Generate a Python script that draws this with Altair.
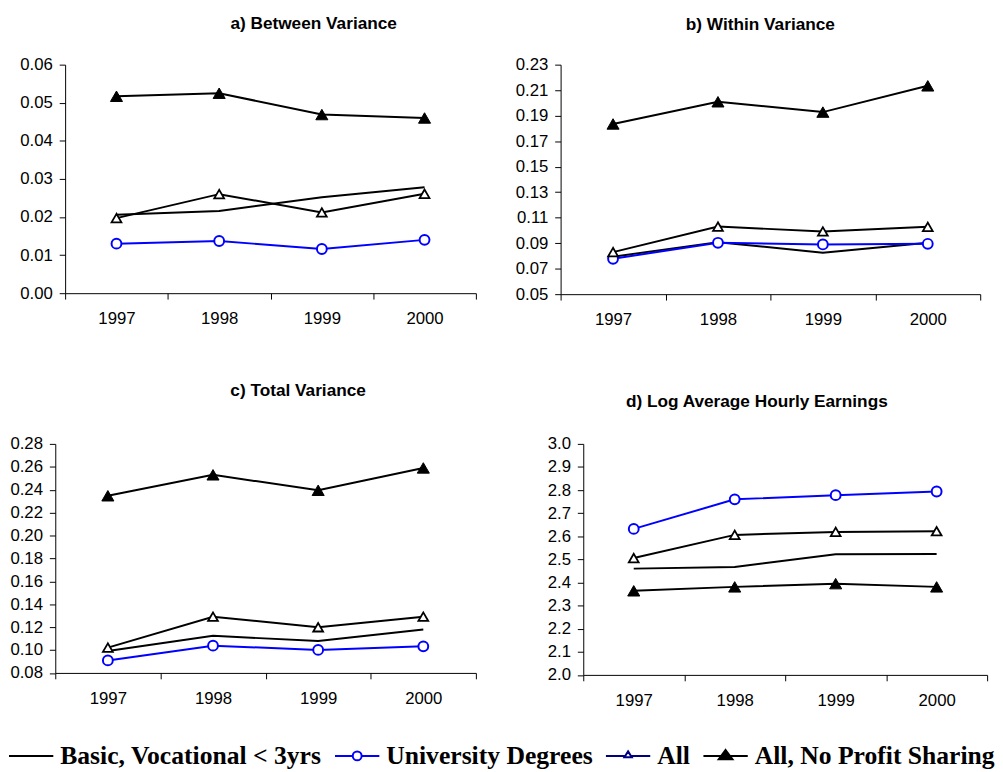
import altair as alt
import pandas as pd

years = ["1997", "1998", "1999", "2000"]
series_names = ["Basic, Vocational < 3yrs", "University Degrees", "All", "All, No Profit Sharing"]

# a) Between Variance
between_basic = [0.0206, 0.0216, 0.0252, 0.0278]
between_univ = [0.0130, 0.0137, 0.0116, 0.0140]
between_all = [0.0197, 0.0260, 0.0212, 0.0261]
between_nps = [0.0517, 0.0525, 0.0469, 0.0460]

# b) Within Variance
within_basic = [0.0794, 0.0908, 0.0825, 0.0903]
within_univ = [0.0778, 0.0903, 0.0890, 0.0895]
within_all = [0.0830, 0.1030, 0.0992, 0.1028]
within_nps = [0.1835, 0.2009, 0.1928, 0.2134]

# c) Total Variance
total_basic = [0.0992, 0.1124, 0.1078, 0.1179]
total_univ = [0.0909, 0.1038, 0.1001, 0.1032]
total_all = [0.1021, 0.1291, 0.1199, 0.1291]
total_nps = [0.2347, 0.2530, 0.2395, 0.2590]

# d) Log Average Hourly Earnings
earn_basic = [2.460, 2.467, 2.522, 2.523]
earn_univ = [2.632, 2.760, 2.778, 2.794]
earn_all = [2.506, 2.606, 2.619, 2.622]
earn_nps = [2.364, 2.381, 2.395, 2.381]

ticks_a = [0.00, 0.01, 0.02, 0.03, 0.04, 0.05, 0.06]
ticks_b = [0.05, 0.07, 0.09, 0.11, 0.13, 0.15, 0.17, 0.19, 0.21, 0.23]
ticks_c = [0.08, 0.10, 0.12, 0.14, 0.16, 0.18, 0.20, 0.22, 0.24, 0.26, 0.28]
ticks_d = [2.0, 2.1, 2.2, 2.3, 2.4, 2.5, 2.6, 2.7, 2.8, 2.9, 3.0]

line_colors = ["#000000", "#0000ff", "#000000", "#000000"]
legend_strokes = ["#000000", "#0000ff", "#000080", "#000000"]
legend_fills = ["#ffffff", "#ffffff", "#ffffff", "#000000"]
legend_paths = [
    "M-1,0L1,0",
    "M-1,0L-0.2,0M0.2,0L1,0M0.2,0A0.2,0.2,0,1,1,-0.2,0A0.2,0.2,0,1,1,0.2,0Z",
    "M-1,0L-0.128,0M0.128,0L1,0M0,-0.204L0.167,0.062L-0.167,0.062Z",
    "M-1,0L1,0M0,-0.267L0.311,0.156L-0.311,0.156Z",
]

SANS = "Liberation Sans"
SERIF = "Liberation Serif"


def long_df(basic, univ, allv, nps):
    rows = []
    for name, vals in zip(series_names, [basic, univ, allv, nps]):
        for yr, v in zip(years, vals):
            rows.append({"year": yr, "series": name, "value": v})
    return pd.DataFrame(rows)


def panel(title, dx, offset, df, ticks, fmt, width, height, y_extent,
          with_legend=False, subtitle_pad=None):
    x_enc = alt.X(
        "year:O",
        scale=alt.Scale(type="band", domain=years, paddingInner=0, paddingOuter=0),
        axis=alt.Axis(title=None, labelAngle=0, tickBand="extent", tickSize=6,
                      tickColor="black", domainColor="black", labelFont=SANS,
                      labelFontSize=17, labelColor="black", labelPadding=12,
                      grid=False),
    )
    y_enc = alt.Y(
        "value:Q",
        scale=alt.Scale(domain=[ticks[0], ticks[-1]], nice=False, zero=False),
        axis=alt.Axis(title=None, values=ticks, format=fmt, tickSize=6,
                      tickColor="black", domainColor="black", labelFont=SANS,
                      labelFontSize=17, labelColor="black", labelPadding=7,
                      labelFlush=False, labelOverlap=False, grid=False,
                      minExtent=y_extent, maxExtent=y_extent),
    )
    base = alt.Chart(df).encode(x=x_enc, y=y_enc)
    layers = []
    for s, col in zip(series_names, line_colors):
        layers.append(base.transform_filter(alt.datum.series == s).mark_line(
            strokeWidth=2, color=col))
    univ_pts = base.transform_filter(alt.datum.series == series_names[1]).mark_point(
        shape="circle", size=100, filled=True, fill="white", stroke="#0000ff",
        strokeWidth=2, opacity=1, fillOpacity=1)
    all_pts = base.transform_filter(alt.datum.series == series_names[2]).mark_point(
        shape="triangle-up", size=100, filled=True, fill="white", stroke="black",
        strokeWidth=1.8, opacity=1, fillOpacity=1)
    nps_pts = base.transform_filter(alt.datum.series == series_names[3]).mark_point(
        shape="triangle-up", size=150, filled=True, fill="black", stroke="black",
        strokeWidth=1, opacity=1, fillOpacity=1)
    layers += [univ_pts, all_pts, nps_pts]

    if with_legend:
        leg = alt.Legend(
            title=None, orient="bottom", direction="horizontal", columns=4, offset=24,
            symbolSize=2025, symbolStrokeWidth=2, symbolOpacity=1,
            labelFont=SERIF, labelFontSize=26, labelFontWeight="bold",
            labelColor="black", labelOffset=6, columnPadding=9, labelLimit=600,
            padding=0,
        )
        legend_layer = base.mark_point(opacity=0, strokeWidth=2, filled=True).encode(
            shape=alt.Shape("series:N", scale=alt.Scale(domain=series_names, range=legend_paths), legend=leg),
            stroke=alt.Stroke("series:N", scale=alt.Scale(domain=series_names, range=legend_strokes), legend=leg),
            fill=alt.Fill("series:N", scale=alt.Scale(domain=series_names, range=legend_fills), legend=leg),
        )
        layers.append(legend_layer)

    if subtitle_pad is not None:
        tp = alt.TitleParams(
            text=" ", subtitle=title, font=SANS, fontSize=1, color="black",
            subtitleFont=SANS, subtitleFontSize=17.5, subtitleFontWeight="bold",
            subtitleColor="black", subtitlePadding=subtitle_pad,
            anchor="middle", frame="group", dx=dx, offset=offset)
    else:
        tp = alt.TitleParams(
            text=title, font=SANS, fontSize=17.5, fontWeight="bold", color="black",
            anchor="middle", frame="group", dx=dx, offset=offset)

    return alt.layer(*layers).properties(width=width, height=height, title=tp)


def spacer():
    return alt.Chart(alt.Data(values=[])).mark_point().encode(
        x=alt.value(0), y=alt.value(0)).properties(width=1, height=1)


pa = panel("a) Between Variance", 43.8, 23.6,
           long_df(between_basic, between_univ, between_all, between_nps),
           ticks_a, ".2f", 417, 232, 57)
pb = panel("b) Within Variance", -10.2, 22.9,
           long_df(within_basic, within_univ, within_all, within_nps),
           ticks_b, ".2f", 426, 233, 75)
pc = panel("c) Total Variance", 33.0, 35.9,
           long_df(total_basic, total_univ, total_all, total_nps),
           ticks_c, ".2f", 427, 232.5, 47)
pd_ = panel("d) Log Average Hourly Earnings", -28.8, 24.6,
            long_df(earn_basic, earn_univ, earn_all, earn_nps),
            ticks_d, ".1f", 410, 234.5, 108, with_legend=True, subtitle_pad=10.3)

chart = alt.concat(spacer(), pa, pb, spacer(), pc, pd_, columns=3).properties(
    spacing={"row": 55, "column": 0},
    align="none",
    bounds="full",
    padding={"left": 0, "top": 0.7, "right": 0, "bottom": 0},
).resolve_scale(x="independent", y="independent").configure_view(stroke=None)

chart.save("out.html", embed_options={"renderer": "svg", "actions": False})
